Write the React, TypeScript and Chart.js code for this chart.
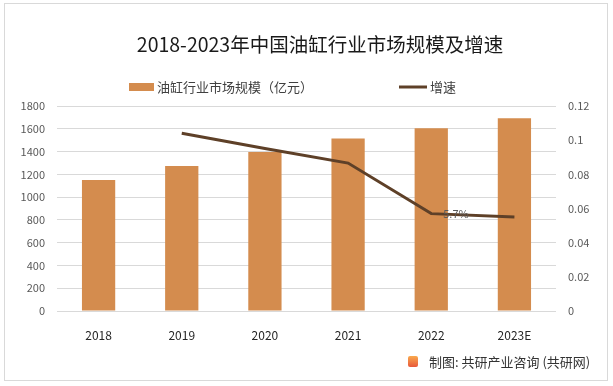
import React, { useEffect, useRef } from "react";
import { Chart, registerables } from "chart.js";

Chart.register(...registerables);

const categories = ["2018", "2019", "2020", "2021", "2022", "2023E"];
const marketSize = [1150, 1273, 1396, 1515, 1605, 1692];
const growth: (number | null)[] = [null, 0.104, 0.0951, 0.0866, 0.057, 0.055];
const growthLabels: (string | null)[] = [null, null, null, null, "5.7%", null];
const titleText = "2018-2023年中国油缸行业市场规模及增速";
const barLegend = "油缸行业市场规模（亿元）";
const lineLegend = "增速";
const sourceText = "制图: 共研产业咨询 (共研网)";

const BAR_COLOR = "#D48C4E";
const LINE_COLOR = "#5E4028";
const FONT = '"Noto Sans CJK SC", "Noto Sans", sans-serif';

export default function App() {
  const ref = useRef<HTMLCanvasElement | null>(null);

  useEffect(() => {
    if (!ref.current) return;
    const overlay = {
      id: "overlay",
      afterDraw(chart: any) {
        const ctx = chart.ctx;
        ctx.save();
        // title
        ctx.fillStyle = "#1a1a1a";
        ctx.font = `19.5px ${FONT}`;
        ctx.textAlign = "center";
        ctx.textBaseline = "middle";
        ctx.fillText(titleText, 320, 45);
        // legend
        ctx.fillStyle = BAR_COLOR;
        ctx.fillRect(129, 83, 25, 8);
        ctx.fillStyle = "#404040";
        ctx.font = `13px ${FONT}`;
        ctx.textAlign = "left";
        ctx.fillText(barLegend, 157, 87);
        ctx.strokeStyle = LINE_COLOR;
        ctx.lineWidth = 3;
        ctx.beginPath();
        ctx.moveTo(399, 87);
        ctx.lineTo(427, 87);
        ctx.stroke();
        ctx.fillText(lineLegend, 430, 87);
        // data labels
        const meta = chart.getDatasetMeta(1);
        ctx.fillStyle = "#595959";
        ctx.font = `11px ${FONT}`;
        growthLabels.forEach((lab, i) => {
          if (!lab) return;
          const el = meta.data[i];
          ctx.fillText(lab, el.x + 12, el.y);
        });
        ctx.restore();
      },
    };

    const chart = new Chart(ref.current, {
      type: "bar",
      data: {
        labels: categories,
        datasets: [
          {
            type: "bar",
            label: barLegend,
            data: marketSize,
            backgroundColor: BAR_COLOR,
            yAxisID: "y",
            categoryPercentage: 1,
            barPercentage: 0.4,
            order: 2,
          },
          {
            type: "line",
            label: lineLegend,
            data: growth,
            borderColor: LINE_COLOR,
            backgroundColor: LINE_COLOR,
            borderWidth: 3,
            pointRadius: 0,
            yAxisID: "y1",
            order: 1,
            tension: 0,
          },
        ] as any,
      },
      options: {
        animation: false,
        responsive: false,
        maintainAspectRatio: false,
        layout: { padding: { top: 106, bottom: 45, left: 0, right: 0 } },
        plugins: {
          legend: { display: false },
          title: { display: false },
          tooltip: { enabled: false },
        },
        scales: {
          x: {
            grid: { display: false },
            border: { display: false },
            ticks: { color: "#262626", font: { family: FONT, size: 12 }, padding: 9 },
            afterFit(s: any) {
              s.height = 30;
            },
          },
          y: {
            position: "left",
            min: 0,
            max: 1800,
            ticks: {
              stepSize: 200,
              color: "#595959",
              font: { family: FONT, size: 11 },
              padding: 12,
              callback: (v: any) => String(v),
            },
            grid: { color: "#d9d9d9", drawTicks: false },
            border: { display: false },
            afterFit(s: any) {
              s.width = 57;
            },
          },
          y1: {
            position: "right",
            min: 0,
            max: 0.12,
            ticks: {
              stepSize: 0.02,
              color: "#595959",
              font: { family: FONT, size: 11 },
              padding: 12,
              callback: (v: any) => String(Number(Number(v).toFixed(2))),
            },
            grid: { display: false, drawTicks: false },
            border: { display: false },
            afterFit(s: any) {
              s.width = 57;
            },
          },
        },
      } as any,
      plugins: [overlay],
    });
    return () => chart.destroy();
  }, []);

  return (
    <div style={{ position: "fixed", left: 0, top: 0, width: 613, height: 386, background: "#fff" }}>
      <div
        style={{
          position: "absolute",
          left: 4,
          top: 3,
          width: 602,
          height: 376,
          border: "1px solid #d9d9d9",
        }}
      />
      <canvas ref={ref} width={613} height={386} style={{ position: "absolute", left: 0, top: 0, width: 613, height: 386 }} />
      <div
        style={{
          position: "absolute",
          left: 408,
          top: 356,
          width: 10,
          height: 11,
          borderRadius: 2,
          background: "linear-gradient(#f9a94d, #e8583a)",
        }}
      />
      <div
        style={{
          position: "absolute",
          left: 429,
          top: 353,
          fontFamily: FONT,
          fontSize: 13,
          lineHeight: "18px",
          color: "#333",
          whiteSpace: "nowrap",
        }}
      >
        {sourceText}
      </div>
    </div>
  );
}
